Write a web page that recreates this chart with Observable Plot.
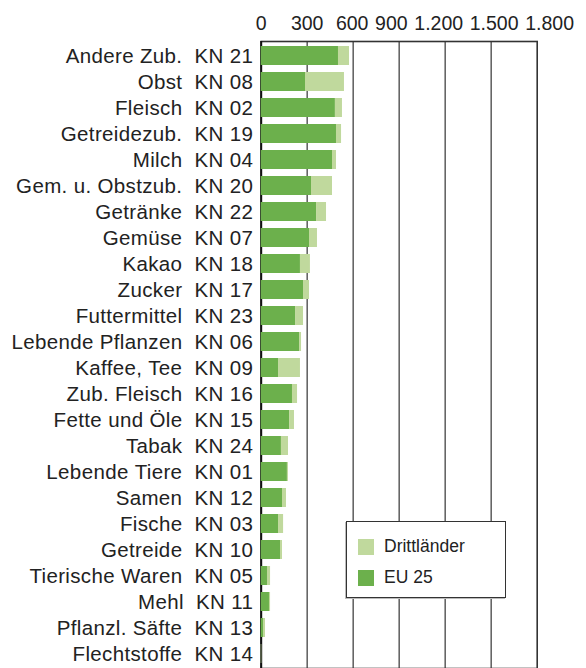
<!DOCTYPE html>
<html>
<head>
<meta charset="utf-8">
<script src="https://cdn.jsdelivr.net/npm/d3@7"></script>
<script src="https://cdn.jsdelivr.net/npm/@observablehq/plot@0.6"></script>
<style>
  html, body { margin: 0; padding: 0; background: #fff; }
  #wrap { position: relative; width: 586px; height: 668px; overflow: hidden; font-family: "Liberation Sans", Arial, sans-serif; }
  #legend { position: absolute; left: 346px; top: 521px; width: 158px; height: 75px; background: #fff;
            border: 1.5px solid #333; box-shadow: -1px 1px 0 #bbb; }
  .item { position: absolute; left: 11px; display: flex; align-items: center; font-size: 17.5px; color: #222; }
  .sw { width: 16px; height: 16px; margin-right: 10px; }
</style>
</head>
<body>
<div id="wrap">
  <div id="chart"></div>
  <div id="legend"></div>
</div>
<script>
const categories = [
  "Andere Zub.  KN 21", "Obst  KN 08", "Fleisch  KN 02", "Getreidezub.  KN 19", "Milch  KN 04",
  "Gem. u. Obstzub.  KN 20", "Getränke  KN 22", "Gemüse  KN 07", "Kakao  KN 18", "Zucker  KN 17",
  "Futtermittel  KN 23", "Lebende Pflanzen  KN 06", "Kaffee, Tee  KN 09", "Zub. Fleisch  KN 16",
  "Fette und Öle  KN 15", "Tabak  KN 24", "Lebende Tiere  KN 01", "Samen  KN 12", "Fische  KN 03",
  "Getreide  KN 10", "Tierische Waren  KN 05", "Mehl  KN 11", "Pflanzl. Säfte  KN 13", "Flechtstoffe  KN 14"
].map(s => s.replace(/ /g, "\u00a0"));
const eu25 =        [504, 289, 484, 491, 465, 328, 361, 315, 256, 276, 224, 250, 113, 204, 185, 132, 171, 139, 113, 126, 41, 54, 15, 0];
const drittlaender = [72, 254, 46, 33, 26, 137, 65, 52, 65, 39, 52, 13, 143, 33, 32, 46, 7, 26, 33, 13, 20, 7, 13, 4];
const xTicks = [0, 300, 600, 900, 1200, 1500, 1800];
const xTickLabels = ["0", "300", "600", "900", "1.200", "1.500", "1.800"];
const seriesNames = ["EU 25", "Drittländer"];
const seriesColors = ["#6cb04c", "#c0d99d"];

const rows = [];
categories.forEach((c, i) => {
  rows.push({cat: c, series: seriesNames[0], value: eu25[i]});
  rows.push({cat: c, series: seriesNames[1], value: drittlaender[i]});
});

const chart = Plot.plot({
  width: 586,
  height: 668,
  marginLeft: 260.7,
  marginRight: 49.3,
  marginTop: 41,
  marginBottom: 0,
  style: {fontFamily: "'Liberation Sans', Arial, sans-serif", fontSize: "20.5px", color: "#222", background: "white"},
  x: {domain: [0, 1800], axis: "top", ticks: xTicks, tickFormat: d => xTickLabels[xTicks.indexOf(d)], tickSize: 0, tickPadding: 12, label: null},
  y: {domain: categories, paddingInner: 0.274, paddingOuter: 0.126, tickSize: 0, tickPadding: 8, label: null},
  color: {domain: seriesNames, range: seriesColors},
  marks: [
    Plot.ruleX(xTicks.slice(1, -1), {stroke: "#666", strokeWidth: 1.6}),
    Plot.frame({stroke: "#333", strokeWidth: 1.6}),
    Plot.ruleX([0], {stroke: "#111", strokeWidth: 2}),
    Plot.barX(rows, Plot.stackX({x: "value", y: "cat", fill: "series", order: null}))
  ]
});
document.getElementById("chart").appendChild(chart);

// y labels: slightly wider letterforms
d3.select(chart).selectAll('[aria-label^="y-axis"] text').style("letter-spacing", "0.35px");

// x labels: 19.5px, spread apart so neighbouring labels do not collide
const xl = d3.select(chart).selectAll('[aria-label^="x-axis"] text').style("font-size", "19.5px").nodes();
if (xl.length) {
  const info = xl.map(t => {
    const r = t.getBoundingClientRect();
    return {t, c: r.left + r.width / 2, w: r.width, c0: r.left + r.width / 2};
  }).sort((a, b) => a.c0 - b.c0);
  const gap = 6.5;
  for (let it = 0; it < 200; it++) {
    for (let i = 0; i < info.length - 1; i++) {
      const a = info[i], b = info[i + 1];
      const ov = (a.c + a.w / 2 + gap) - (b.c - b.w / 2);
      if (ov > 0) {
        if (i === 0) b.c += ov; else { a.c -= ov / 2; b.c += ov / 2; }
      }
    }
  }
  info.forEach(o => {
    const prev = parseFloat(o.t.getAttribute("dx") || 0) || 0;
    o.t.setAttribute("dx", prev + (o.c - o.c0));
  });
}

const legend = document.getElementById("legend");
[[seriesNames[1], seriesColors[1], 14], [seriesNames[0], seriesColors[0], 45]].forEach(([name, col, top]) => {
  const d = document.createElement("div");
  d.className = "item";
  d.style.top = top + "px";
  d.innerHTML = `<span class="sw" style="background:${col}"></span><span>${name}</span>`;
  legend.appendChild(d);
});
</script>
</body>
</html>
